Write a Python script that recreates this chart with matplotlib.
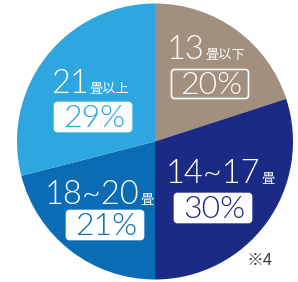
import matplotlib.pyplot as plt
from matplotlib.patches import FancyBboxPatch

# data
sizes = ["13", "14~17", "18~20", "21"]
suffixes = ["畳以下", "畳", "畳", "畳以上"]
shares = [20, 30, 21, 29]
colors = ["#a38f7e", "#1b2a84", "#0a6cb5", "#2ea7e0"]
note = "※4"

W, H = 298, 282
plt.rcParams["font.family"] = ["Lato", "Noto Sans CJK JP", "DejaVu Sans"]

fig = plt.figure(figsize=(W / 100, H / 100), dpi=100)
ax = fig.add_axes([0, 0, 1, 1])

# pie drawn in pixel coords; y axis is flipped so counterclock=True goes clockwise on screen
ax.pie(shares, colors=colors, startangle=-90, counterclock=True,
       center=(155, 141.5), radius=138, frame=True,
       wedgeprops=dict(linewidth=0))
ax.set_xlim(0, W)
ax.set_ylim(H, 0)
ax.axis("off")

# label layout: number start x, baseline y, box top-left
layout = [
    dict(nx=167, ny=59, box=(170, 68)),
    dict(nx=166, ny=183, box=(173, 192)),
    dict(nx=45, ny=204, box=(65, 209)),
    dict(nx=51, ny=93, box=(53, 101)),
]
bw, bh = 80, 32

fig.canvas.draw()
renderer = fig.canvas.get_renderer()
inv = ax.transData.inverted()

for num, suf, pct, col, lay in zip(sizes, suffixes, shares, colors, layout):
    t = ax.text(lay["nx"], lay["ny"], num, color="white", fontsize=23.5,
                fontweight=300, ha="left", va="baseline")
    ext = t.get_window_extent(renderer)
    x_end = inv.transform((ext.x1, 0))[0]
    ax.text(x_end + 0.5, lay["ny"], suf, color="white", fontsize=9.5,
            family="Noto Sans CJK JP", ha="left", va="baseline")
    bx, by = lay["box"]
    if num == "13":
        face, tcol = "none", "white"
    else:
        face, tcol = "white", col
    box = FancyBboxPatch((bx + 1.5, by + 1.5), bw - 3, bh - 3,
                         boxstyle="round,pad=0,rounding_size=3",
                         facecolor=face, edgecolor="white", linewidth=1.2)
    ax.add_patch(box)
    ax.text(bx + bw / 2 + 1, by + bh / 2 + 1.5, f"{pct}%", color=tcol,
            fontsize=23, fontweight=300, ha="center", va="center")

ax.text(260, 260, note, color="#3a3a3a", fontsize=12,
        family=["Noto Sans CJK JP", "DejaVu Sans"], ha="center", va="center")

fig.savefig("out.png", dpi=100)
